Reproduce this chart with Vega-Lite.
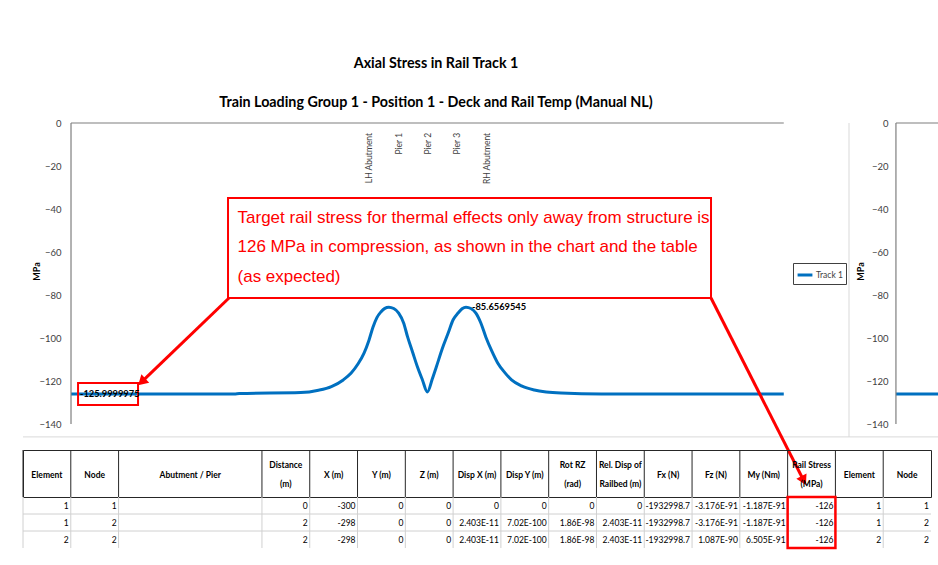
{
  "$schema": "https://vega.github.io/schema/vega-lite/v6.json",
  "background": "white",
  "padding": {"left": 22, "top": 57, "right": 0, "bottom": 2},
  "config": {
    "font": "Lato",
    "view": {"stroke": null},
    "legend": {"orient": "none", "legendX": 770, "legendY": 140, "symbolType": "stroke", "symbolStrokeWidth": 3, "symbolSize": 220, "labelFontSize": 8.5, "labelColor": "#404040", "labelFont": "Lato", "strokeColor": "#404040", "fillColor": "white", "padding": 3, "labelOffset": 2}
  },
  "datasets": {
    "stress": [
      {"series": "Track 1", "distance": 0, "stress": -126},
      {"series": "Track 1", "distance": 165, "stress": -126},
      {"series": "Track 1", "distance": 170, "stress": -125.8},
      {"series": "Track 1", "distance": 232, "stress": -125.4},
      {"series": "Track 1", "distance": 250, "stress": -124.3},
      {"series": "Track 1", "distance": 263, "stress": -122.6},
      {"series": "Track 1", "distance": 275, "stress": -119.5},
      {"series": "Track 1", "distance": 283, "stress": -116.3},
      {"series": "Track 1", "distance": 290, "stress": -112},
      {"series": "Track 1", "distance": 296, "stress": -107},
      {"series": "Track 1", "distance": 301, "stress": -101},
      {"series": "Track 1", "distance": 305, "stress": -95},
      {"series": "Track 1", "distance": 309, "stress": -90.5},
      {"series": "Track 1", "distance": 313, "stress": -87.9},
      {"series": "Track 1", "distance": 317, "stress": -86.2},
      {"series": "Track 1", "distance": 321, "stress": -85.66},
      {"series": "Track 1", "distance": 326, "stress": -86.3},
      {"series": "Track 1", "distance": 331, "stress": -88.4},
      {"series": "Track 1", "distance": 336, "stress": -93},
      {"series": "Track 1", "distance": 340, "stress": -99.5},
      {"series": "Track 1", "distance": 345, "stress": -106.5},
      {"series": "Track 1", "distance": 350, "stress": -113.5},
      {"series": "Track 1", "distance": 355, "stress": -119.5},
      {"series": "Track 1", "distance": 360, "stress": -125.1},
      {"series": "Track 1", "distance": 365, "stress": -119},
      {"series": "Track 1", "distance": 369, "stress": -113.5},
      {"series": "Track 1", "distance": 375, "stress": -105},
      {"series": "Track 1", "distance": 381, "stress": -97.7},
      {"series": "Track 1", "distance": 386, "stress": -91.5},
      {"series": "Track 1", "distance": 391, "stress": -88.4},
      {"series": "Track 1", "distance": 395, "stress": -86.4},
      {"series": "Track 1", "distance": 399, "stress": -85.66},
      {"series": "Track 1", "distance": 404, "stress": -86.3},
      {"series": "Track 1", "distance": 409, "stress": -88.4},
      {"series": "Track 1", "distance": 414, "stress": -93},
      {"series": "Track 1", "distance": 419, "stress": -99.5},
      {"series": "Track 1", "distance": 425, "stress": -106},
      {"series": "Track 1", "distance": 431, "stress": -111.6},
      {"series": "Track 1", "distance": 438, "stress": -116},
      {"series": "Track 1", "distance": 445, "stress": -119.5},
      {"series": "Track 1", "distance": 455, "stress": -122.3},
      {"series": "Track 1", "distance": 468, "stress": -124.2},
      {"series": "Track 1", "distance": 480, "stress": -125.1},
      {"series": "Track 1", "distance": 495, "stress": -125.6},
      {"series": "Track 1", "distance": 536, "stress": -126},
      {"series": "Track 1", "distance": 720, "stress": -126}
    ],
    "stress2": [
      {"distance": 833.3, "stress": -126},
      {"distance": 876.8, "stress": -126}
    ],
    "axisLines": [
      {"x": 0, "x2": 0, "y": 0, "y2": -140},
      {"x": 0, "x2": 720, "y": 0, "y2": 0},
      {"x": 833.3, "x2": 833.3, "y": 0, "y2": -140},
      {"x": 833.3, "x2": 876.8, "y": 0, "y2": 0}
    ],
    "border": [
      {"x": 785.9, "x2": 785.9, "y": 0, "y2": -146},
      {"x": -48.5, "x2": 876.8, "y": -146, "y2": -146}
    ],
    "locations": [
      {"name": "LH Abutment", "distance": 301},
      {"name": "Pier 1", "distance": 331},
      {"name": "Pier 2", "distance": 360.5},
      {"name": "Pier 3", "distance": 390},
      {"name": "RH Abutment", "distance": 420}
    ],
    "valueLabels": [
      {"distance": 9, "stress": -126, "text": "-125.9999975"},
      {"distance": 405, "stress": -85.66, "text": "-85.6569545"}
    ],
    "labelBox": [{"x0": 7.1, "x1": 67.7, "y0": -120.9, "y1": -131.2}],
    "calloutBox": [{"x0": 158.6, "x1": 646.5, "y0": -34.9, "y1": -81.4}],
    "calloutText": [
      {"x": 168.2, "y": -44.2, "text": "Target rail stress for thermal effects only away from structure is"},
      {"x": 168.2, "y": -57.7, "text": "126 MPa in compression, as shown in the chart and the table"},
      {"x": 168.2, "y": -71.8, "text": "(as expected)"}
    ],
    "arrows": [
      {"x": 159.6, "y": -81.4, "x2": 71.4, "y2": -120.4},
      {"x": 646.5, "y": -81.4, "x2": 740.1, "y2": -166.3}
    ],
    "colBounds": [
      {"col": "A"}, {"col": "B"}, {"col": "C1"}, {"col": "D"}, {"col": "E"}, {"col": "F"}, {"col": "G"}, {"col": "H"}, {"col": "I"},
      {"col": "J"}, {"col": "K"}, {"col": "L"}, {"col": "M"}, {"col": "N"}, {"col": "O"}, {"col": "P"}, {"col": "Q"}
    ],
    "rowBounds": [{"row": "75"}, {"row": "76"}],
    "header": [
      {"col": "A", "label": "Element"},
      {"col": "B", "label": "Node"},
      {"col": "C2", "label": "Abutment / Pier"},
      {"col": "E", "label": "X (m)"},
      {"col": "F", "label": "Y (m)"},
      {"col": "G", "label": "Z (m)"},
      {"col": "H", "label": "Disp X (m)"},
      {"col": "I", "label": "Disp Y (m)"},
      {"col": "L", "label": "Fx (N)"},
      {"col": "M", "label": "Fz (N)"},
      {"col": "N", "label": "My (Nm)"},
      {"col": "P", "label": "Element"},
      {"col": "Q", "label": "Node"}
    ],
    "header2": [
      {"col": "D", "label": "Distance\n(m)"},
      {"col": "J", "label": "Rot RZ\n(rad)"},
      {"col": "K", "label": "Rel. Disp of\nRailbed (m)"},
      {"col": "O", "label": "Rail Stress\n(MPa)"}
    ],
    "rows": [
      {"row": "74", "col": "A", "value": "1"},
      {"row": "74", "col": "B", "value": "1"},
      {"row": "74", "col": "D", "value": "0"},
      {"row": "74", "col": "E", "value": "-300"},
      {"row": "74", "col": "F", "value": "0"},
      {"row": "74", "col": "G", "value": "0"},
      {"row": "74", "col": "H", "value": "0"},
      {"row": "74", "col": "I", "value": "0"},
      {"row": "74", "col": "J", "value": "0"},
      {"row": "74", "col": "K", "value": "0"},
      {"row": "74", "col": "L", "value": "-1932998.7"},
      {"row": "74", "col": "M", "value": "-3.176E-91"},
      {"row": "74", "col": "N", "value": "-1.187E-91"},
      {"row": "74", "col": "O", "value": "-126"},
      {"row": "74", "col": "P", "value": "1"},
      {"row": "74", "col": "Q", "value": "1"},
      {"row": "75", "col": "A", "value": "1"},
      {"row": "75", "col": "B", "value": "2"},
      {"row": "75", "col": "D", "value": "2"},
      {"row": "75", "col": "E", "value": "-298"},
      {"row": "75", "col": "F", "value": "0"},
      {"row": "75", "col": "G", "value": "0"},
      {"row": "75", "col": "H", "value": "2.403E-11"},
      {"row": "75", "col": "I", "value": "7.02E-100"},
      {"row": "75", "col": "J", "value": "1.86E-98"},
      {"row": "75", "col": "K", "value": "2.403E-11"},
      {"row": "75", "col": "L", "value": "-1932998.7"},
      {"row": "75", "col": "M", "value": "-3.176E-91"},
      {"row": "75", "col": "N", "value": "-1.187E-91"},
      {"row": "75", "col": "O", "value": "-126"},
      {"row": "75", "col": "P", "value": "1"},
      {"row": "75", "col": "Q", "value": "2"},
      {"row": "76", "col": "A", "value": "2"},
      {"row": "76", "col": "B", "value": "2"},
      {"row": "76", "col": "D", "value": "2"},
      {"row": "76", "col": "E", "value": "-298"},
      {"row": "76", "col": "F", "value": "0"},
      {"row": "76", "col": "G", "value": "0"},
      {"row": "76", "col": "H", "value": "2.403E-11"},
      {"row": "76", "col": "I", "value": "7.02E-100"},
      {"row": "76", "col": "J", "value": "1.86E-98"},
      {"row": "76", "col": "K", "value": "2.403E-11"},
      {"row": "76", "col": "L", "value": "-1932998.7"},
      {"row": "76", "col": "M", "value": "1.087E-90"},
      {"row": "76", "col": "N", "value": "6.505E-91"},
      {"row": "76", "col": "O", "value": "-126"},
      {"row": "76", "col": "P", "value": "2"},
      {"row": "76", "col": "Q", "value": "2"}
    ],
    "highlight": [{"col": "O"}]
  },
  "bounds": "flush",
  "spacing": 0,
  "vconcat": [
    {
      "width": 916,
      "height": 327,
      "title": {
        "text": "Axial Stress in Rail Track 1",
        "subtitle": "Train Loading Group 1 - Position 1 - Deck and Rail Temp (Manual NL)",
        "anchor": "middle",
        "dx": -45,
        "font": "Lato",
        "fontSize": 14.3,
        "fontWeight": "bold",
        "color": "#000000",
        "subtitleFont": "Lato",
        "subtitleFontSize": 14.3,
        "subtitleFontWeight": "bold",
        "subtitleColor": "#000000",
        "subtitlePadding": 24,
        "offset": 8
      },
      "resolve": {"axis": {"y": "independent"}},
      "layer": [
        {
          "data": {"name": "border"},
          "mark": {"type": "rule", "color": "#d9d9d9", "strokeWidth": 1},
          "encoding": {
            "x": {"field": "x", "type": "quantitative", "scale": {"domain": [-48.5, 876.8], "nice": false, "zero": false}, "axis": null},
            "x2": {"field": "x2"},
            "y": {"field": "y", "type": "quantitative", "scale": {"domain": [-152.09, 0], "nice": false, "zero": false}, "axis": null},
            "y2": {"field": "y2"}
          }
        },
        {
          "data": {"name": "stress"},
          "mark": {"type": "line", "interpolate": "monotone", "strokeWidth": 3},
          "encoding": {
            "x": {"field": "distance", "type": "quantitative", "axis": null},
            "y": {"field": "stress", "type": "quantitative",
              "axis": {"orient": "left", "offset": -48, "values": [0, -20, -40, -60, -80, -100, -120, -140], "domain": false, "ticks": false, "tickSize": 0, "grid": false, "labelFontSize": 9.5, "labelColor": "#404040", "labelPadding": 10, "title": "MPa", "titleFontSize": 9, "titleFontWeight": "bold", "titleColor": "#000000", "titlePadding": -3, "titleY": 148}},
            "color": {"field": "series", "type": "nominal", "scale": {"range": ["#0070C0"]}, "legend": {"title": null}}
          }
        },
        {
          "data": {"name": "stress2"},
          "mark": {"type": "line", "strokeWidth": 3, "color": "#0070C0"},
          "encoding": {
            "x": {"field": "distance", "type": "quantitative", "axis": null},
            "y": {"field": "stress", "type": "quantitative",
              "axis": {"orient": "left", "offset": -873, "values": [0, -20, -40, -60, -80, -100, -120, -140], "domain": false, "ticks": false, "tickSize": 0, "grid": false, "labelFontSize": 9.5, "labelColor": "#404040", "labelPadding": 8, "title": "MPa", "titleFontSize": 9, "titleFontWeight": "bold", "titleColor": "#000000", "titlePadding": 0, "titleY": 148}}
          }
        },
        {
          "data": {"name": "axisLines"},
          "mark": {"type": "rule", "color": "#7f7f7f", "strokeWidth": 1.2},
          "encoding": {
            "x": {"field": "x", "type": "quantitative", "axis": null},
            "x2": {"field": "x2"},
            "y": {"field": "y", "type": "quantitative", "axis": null},
            "y2": {"field": "y2"}
          }
        },
        {
          "data": {"name": "locations"},
          "mark": {"type": "text", "angle": 270, "align": "right", "baseline": "middle", "fontSize": 8.5, "color": "#404040"},
          "encoding": {
            "x": {"field": "distance", "type": "quantitative", "axis": null},
            "y": {"datum": -4.6, "type": "quantitative", "axis": null},
            "text": {"field": "name"}
          }
        },
        {
          "data": {"name": "labelBox"},
          "mark": {"type": "rect", "fill": "transparent", "stroke": "#FF0000", "strokeWidth": 2},
          "encoding": {
            "x": {"field": "x0", "type": "quantitative", "axis": null},
            "x2": {"field": "x1"},
            "y": {"field": "y0", "type": "quantitative", "axis": null},
            "y2": {"field": "y1"}
          }
        },
        {
          "data": {"name": "valueLabels"},
          "mark": {"type": "text", "align": "left", "baseline": "middle", "fontSize": 9.3, "fontWeight": "bold", "color": "#000000"},
          "encoding": {
            "x": {"field": "distance", "type": "quantitative", "axis": null},
            "y": {"field": "stress", "type": "quantitative", "axis": null},
            "text": {"field": "text"}
          }
        },
        {
          "data": {"name": "arrows"},
          "mark": {"type": "rule", "color": "#FF0000", "strokeWidth": 3},
          "encoding": {
            "x": {"field": "x", "type": "quantitative", "axis": null},
            "x2": {"field": "x2"},
            "y": {"field": "y", "type": "quantitative", "axis": null},
            "y2": {"field": "y2"}
          }
        },
        {
          "data": {"values": [{"x": 71.4, "y": -120.4}]},
          "mark": {"type": "point", "shape": "triangle-up", "angle": 227, "size": 130, "filled": true, "color": "#FF0000", "opacity": 1},
          "encoding": {
            "x": {"field": "x", "type": "quantitative", "axis": null},
            "y": {"field": "y", "type": "quantitative", "axis": null}
          }
        },
        {
          "data": {"values": [{"x": 740.1, "y": -166.3}]},
          "mark": {"type": "point", "shape": "triangle-up", "angle": 153, "size": 130, "filled": true, "color": "#FF0000", "opacity": 1},
          "encoding": {
            "x": {"field": "x", "type": "quantitative", "axis": null},
            "y": {"field": "y", "type": "quantitative", "axis": null}
          }
        },
        {
          "data": {"name": "calloutBox"},
          "mark": {"type": "rect", "fill": "white", "stroke": "#FF0000", "strokeWidth": 2},
          "encoding": {
            "x": {"field": "x0", "type": "quantitative", "axis": null},
            "x2": {"field": "x1"},
            "y": {"field": "y0", "type": "quantitative", "axis": null},
            "y2": {"field": "y1"}
          }
        },
        {
          "data": {"name": "calloutText"},
          "mark": {"type": "text", "align": "left", "baseline": "middle", "font": "Liberation Sans, Arial, sans-serif", "fontSize": 17, "color": "#FF0000"},
          "encoding": {
            "x": {"field": "x", "type": "quantitative", "axis": null},
            "y": {"field": "y", "type": "quantitative", "axis": null},
            "text": {"field": "text"}
          }
        }
      ]
    },
    {
      "width": 908,
      "height": 47,
      "view": {"stroke": "#262626", "strokeWidth": 1},
      "layer": [
        {
          "data": {"name": "colBounds"},
          "mark": {"type": "rule", "color": "#262626", "strokeWidth": 1},
          "encoding": {
            "x": {"field": "col", "type": "nominal", "bandPosition": 0,
              "scale": {"domain": ["A", "B", "C1", "C2", "C3", "D", "E", "F", "G", "H", "I", "J", "K", "L", "M", "N", "O", "P", "Q"], "paddingInner": 0, "paddingOuter": 0},
              "axis": null}
          }
        },
        {
          "data": {"name": "header"},
          "mark": {"type": "text", "fontWeight": "bold", "fontSize": 8.5, "baseline": "middle", "dy": 1, "color": "#000000"},
          "encoding": {
            "x": {"field": "col", "type": "nominal", "axis": null},
            "text": {"field": "label"}
          }
        },
        {
          "data": {"name": "header2"},
          "mark": {"type": "text", "fontWeight": "bold", "fontSize": 8.5, "lineBreak": "\n", "lineHeight": 19, "baseline": "middle", "dy": -9, "color": "#000000"},
          "encoding": {
            "x": {"field": "col", "type": "nominal", "axis": null},
            "text": {"field": "label"}
          }
        }
      ]
    },
    {
      "width": 908,
      "height": 51,
      "layer": [
        {
          "data": {"name": "colBounds"},
          "mark": {"type": "rule", "color": "#d0d0d0", "strokeWidth": 1},
          "encoding": {
            "x": {"field": "col", "type": "nominal", "bandPosition": 0,
              "scale": {"domain": ["A", "B", "C1", "C2", "C3", "D", "E", "F", "G", "H", "I", "J", "K", "L", "M", "N", "O", "P", "Q"], "paddingInner": 0, "paddingOuter": 0},
              "axis": null}
          }
        },
        {
          "data": {"name": "rowBounds"},
          "mark": {"type": "rule", "color": "#d0d0d0", "strokeWidth": 1},
          "encoding": {
            "y": {"field": "row", "type": "ordinal", "bandPosition": 0,
              "scale": {"domain": ["74", "75", "76"], "paddingInner": 0, "paddingOuter": 0},
              "axis": null}
          }
        },
        {
          "data": {"name": "rows"},
          "mark": {"type": "text", "align": "right", "baseline": "middle", "dx": -2, "fontSize": 8.5, "color": "#000000"},
          "encoding": {
            "x": {"field": "col", "type": "nominal", "bandPosition": 1, "axis": null},
            "y": {"field": "row", "type": "ordinal", "axis": null},
            "text": {"field": "value"}
          }
        },
        {
          "data": {"name": "highlight"},
          "mark": {"type": "rect", "fill": "transparent", "stroke": "#FF0000", "strokeWidth": 2.5},
          "encoding": {
            "x": {"field": "col", "type": "nominal", "axis": null}
          }
        }
      ]
    }
  ]
}
